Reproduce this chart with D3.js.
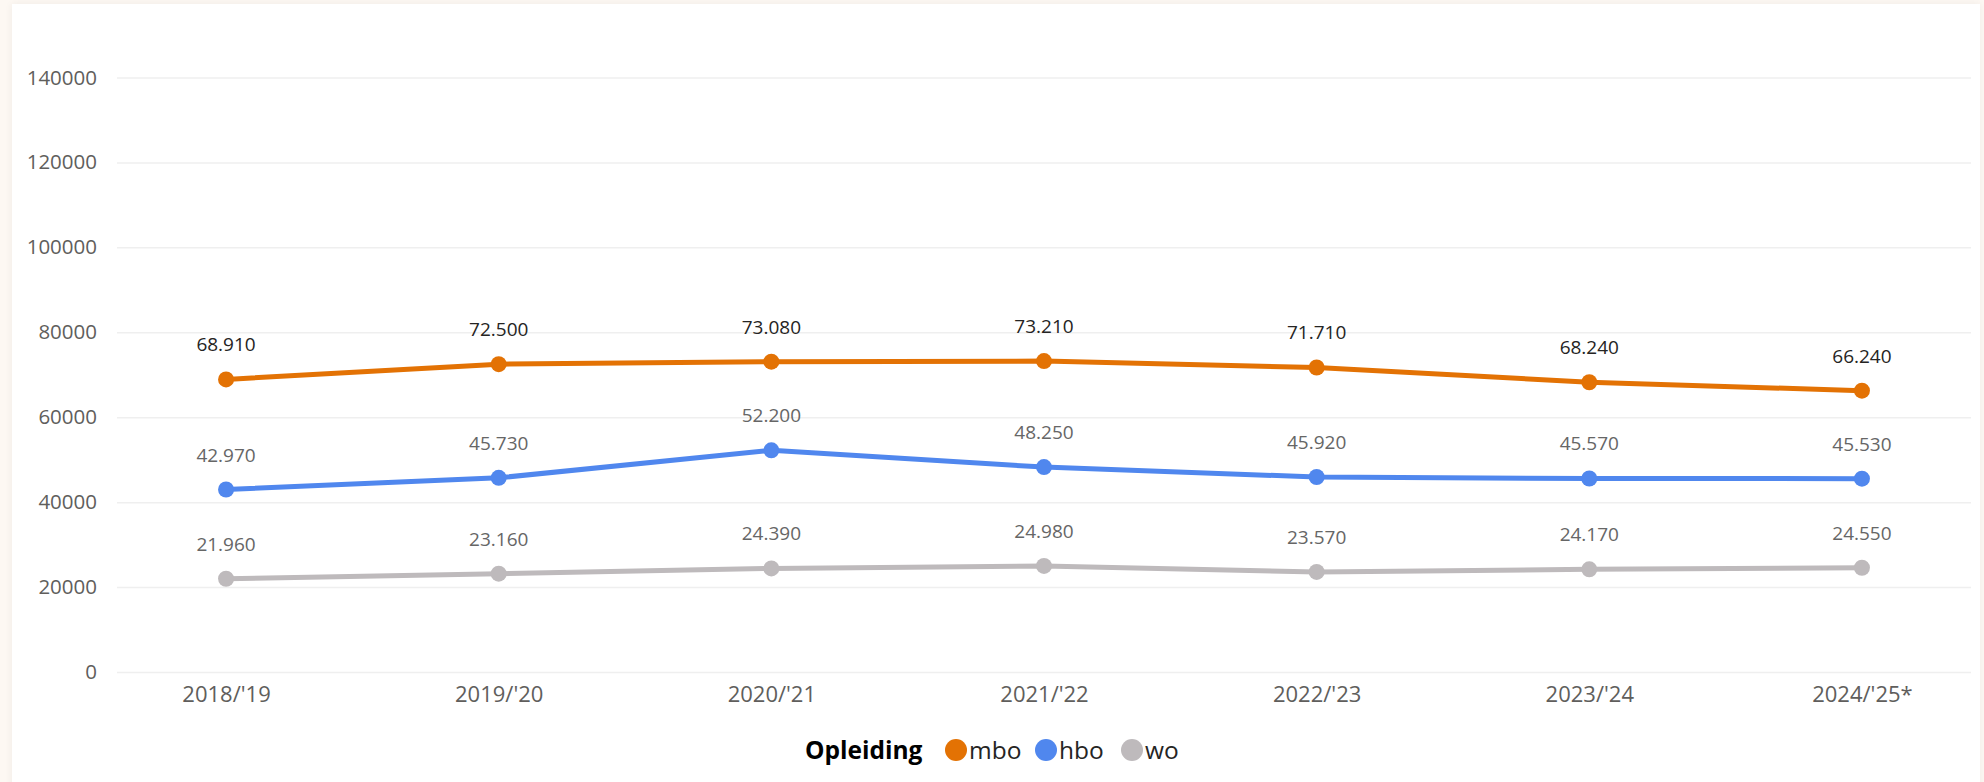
<!DOCTYPE html>
<html>
<head>
<meta charset="utf-8">
<script src="https://cdn.jsdelivr.net/npm/d3@7"></script>
<style>
  html, body { margin: 0; padding: 0; background: #fdf8f3; }
  #chart { width: 1984px; height: 782px; }
  text { font-family: "Open Sans", "Noto Sans", sans-serif; }
</style>
</head>
<body>
<div id="chart"></div>
<script>
// data
const years = ["2018/'19", "2019/'20", "2020/'21", "2021/'22", "2022/'23", "2023/'24", "2024/'25*"];
const mbo = [68910, 72500, 73080, 73210, 71710, 68240, 66240];
const hbo = [42970, 45730, 52200, 48250, 45920, 45570, 45530];
const wo  = [21960, 23160, 24390, 24980, 23570, 24170, 24550];
const yTicks = [0, 20000, 40000, 60000, 80000, 100000, 120000, 140000];
const seriesNames = ["mbo", "hbo", "wo"];

const series = [
  {name: "mbo", values: mbo, color: "#e37204", label: "#252423"},
  {name: "hbo", values: hbo, color: "#5087ee", label: "#666666"},
  {name: "wo",  values: wo,  color: "#bebabc", label: "#666666"}
];

const W = 1984, H = 782;
const plot = {left: 117, right: 1971, top: 77.5, bottom: 672};

const svg = d3.select("#chart")
  .append("svg")
    .attr("width", W)
    .attr("height", H);

// white card with soft edge
const defs = svg.append("defs");
const f = defs.append("filter").attr("id", "sh").attr("x", "-5%").attr("y", "-5%").attr("width", "110%").attr("height", "110%");
f.append("feGaussianBlur").attr("in", "SourceAlpha").attr("stdDeviation", 4);
f.append("feComponentTransfer").append("feFuncA").attr("type", "linear").attr("slope", 0.06);
const m = f.append("feMerge");
m.append("feMergeNode");
m.append("feMergeNode").attr("in", "SourceGraphic");

svg.append("rect")
  .attr("x", 12).attr("y", 4)
  .attr("width", 1968).attr("height", 790)
  .attr("fill", "#ffffff")
  .attr("filter", "url(#sh)");

// scales
const x = d3.scalePoint()
  .domain(years)
  .range([plot.left, plot.right])
  .padding(0.4);

const y = d3.scaleLinear()
  .domain([0, 140000])
  .range([plot.bottom, plot.top]);

// Y axis + grid
const yAxis = svg.append("g")
  .attr("transform", `translate(${plot.left},0)`)
  .call(d3.axisLeft(y).tickValues(yTicks).tickFormat(d3.format("d"))
    .tickSize(-(plot.right - plot.left)).tickPadding(20));
yAxis.select(".domain").remove();
yAxis.selectAll("line").attr("stroke", "#efefef").attr("stroke-width", 1.5);
yAxis.selectAll("text")
  .attr("fill", "#605e5c")
  .style("font-size", "20.5px");

// X axis
const xAxis = svg.append("g")
  .attr("transform", `translate(0,${plot.bottom})`)
  .call(d3.axisBottom(x).tickSize(0).tickPadding(14));
xAxis.select(".domain").remove();
xAxis.selectAll("text")
  .attr("fill", "#605e5c")
  .style("font-size", "22px");

// lines
const line = d3.line()
  .x((d, i) => x(years[i]))
  .y(d => y(d));

series.forEach(s => {
  const g = svg.append("g");
  g.append("path")
    .datum(s.values)
    .attr("fill", "none")
    .attr("stroke", s.color)
    .attr("stroke-width", 5)
    .attr("stroke-linejoin", "round")
    .attr("d", line);

  g.selectAll("circle")
    .data(s.values)
    .enter()
    .append("circle")
      .attr("cx", (d, i) => x(years[i]))
      .attr("cy", d => y(d))
      .attr("r", 8)
      .attr("fill", s.color);

  g.selectAll("text")
    .data(s.values)
    .enter()
    .append("text")
      .attr("x", (d, i) => x(years[i]))
      .attr("y", d => y(d) - 28)
      .attr("text-anchor", "middle")
      .attr("fill", s.label)
      .style("font-size", "19px")
      .text(d => d3.format(",")(d).replace(",", "."));
});

// legend
const legend = svg.append("g").attr("transform", "translate(0,750)");
legend.append("text")
  .attr("x", 805).attr("y", 0)
  .attr("dy", "0.35em")
  .attr("fill", "#000")
  .style("font-size", "24.5px")
  .style("font-weight", "bold")
  .text("Opleiding");

const legendX = [956, 1046, 1132];
seriesNames.forEach((n, i) => {
  const s = series[i];
  legend.append("circle")
    .attr("cx", legendX[i]).attr("cy", 0)
    .attr("r", 11)
    .attr("fill", s.color);
  legend.append("text")
    .attr("x", legendX[i] + 13).attr("y", 0)
    .attr("dy", "0.35em")
    .attr("fill", "#252423")
    .style("font-size", "24.5px")
    .text(n);
});
</script>
</body>
</html>
